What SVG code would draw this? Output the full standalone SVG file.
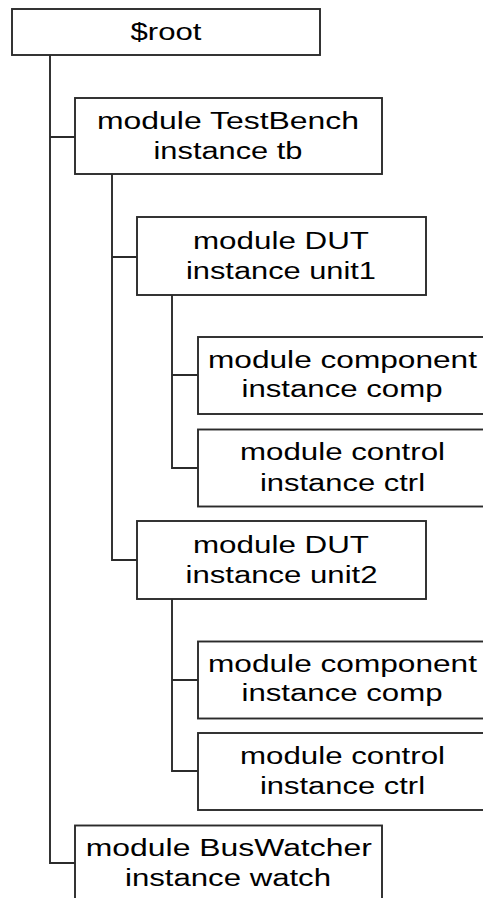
<svg xmlns="http://www.w3.org/2000/svg" width="483" height="898" viewBox="0 0 483 898">
<style>
.box{fill:#fff;stroke:#2b2b2b;stroke-width:1.9}
.t{font-family:"Liberation Sans",Arial,sans-serif;font-size:23px;fill:#000;text-anchor:middle}
.c{fill:none;stroke:#2b2b2b;stroke-width:1.9}
</style>
<rect width="483" height="898" fill="#fff"/>
<g id="connectors">
<path class="c" d="M50,55 V863 H75 M50,137 H75"/>
<path class="c" d="M112,174 V560 H137 M112,257 H137"/>
<path class="c" d="M172,295 V468 H198 M172,375 H198"/>
<path class="c" d="M172,599 V771 H198 M172,680 H198"/>
</g>
<g id="root">
<rect class="box" x="12" y="9" width="308" height="46"/>
<text class="t" x="166" y="40" textLength="71" lengthAdjust="spacingAndGlyphs">$root</text>
</g>
<g id="tb">
<rect class="box" x="75" y="98" width="307" height="76"/>
<text class="t" x="228" y="128.5" textLength="262" lengthAdjust="spacingAndGlyphs">module TestBench</text>
<text class="t" x="228" y="158.5" textLength="149" lengthAdjust="spacingAndGlyphs">instance tb</text>
</g>
<g id="unit1">
<rect class="box" x="137" y="217" width="289" height="78"/>
<text class="t" x="281" y="249.3" textLength="176" lengthAdjust="spacingAndGlyphs">module DUT</text>
<text class="t" x="281" y="278.5" textLength="190" lengthAdjust="spacingAndGlyphs">instance unit1</text>
</g>
<g id="comp1">
<rect class="box" x="198" y="337" width="295" height="77"/>
<text class="t" x="342.5" y="368.3" textLength="269" lengthAdjust="spacingAndGlyphs">module component</text>
<text class="t" x="342" y="397" textLength="201" lengthAdjust="spacingAndGlyphs">instance comp</text>
</g>
<g id="ctrl1">
<rect class="box" x="198" y="429.5" width="295" height="77"/>
<text class="t" x="342.5" y="459.5" textLength="205" lengthAdjust="spacingAndGlyphs">module control</text>
<text class="t" x="342.5" y="490.5" textLength="165" lengthAdjust="spacingAndGlyphs">instance ctrl</text>
</g>
<g id="unit2">
<rect class="box" x="137" y="521" width="289" height="78"/>
<text class="t" x="281" y="552.7" textLength="176" lengthAdjust="spacingAndGlyphs">module DUT</text>
<text class="t" x="281.5" y="582.7" textLength="192" lengthAdjust="spacingAndGlyphs">instance unit2</text>
</g>
<g id="comp2">
<rect class="box" x="198" y="641.5" width="295" height="77"/>
<text class="t" x="342.5" y="671.7" textLength="269" lengthAdjust="spacingAndGlyphs">module component</text>
<text class="t" x="342" y="701" textLength="201" lengthAdjust="spacingAndGlyphs">instance comp</text>
</g>
<g id="ctrl2">
<rect class="box" x="198" y="733" width="295" height="77"/>
<text class="t" x="342.5" y="764" textLength="205" lengthAdjust="spacingAndGlyphs">module control</text>
<text class="t" x="342.5" y="794" textLength="165" lengthAdjust="spacingAndGlyphs">instance ctrl</text>
</g>
<g id="watch">
<rect class="box" x="75" y="825.5" width="307" height="80"/>
<text class="t" x="228.8" y="855.7" textLength="286" lengthAdjust="spacingAndGlyphs">module BusWatcher</text>
<text class="t" x="228" y="885.7" textLength="206" lengthAdjust="spacingAndGlyphs">instance watch</text>
</g>
</svg>
